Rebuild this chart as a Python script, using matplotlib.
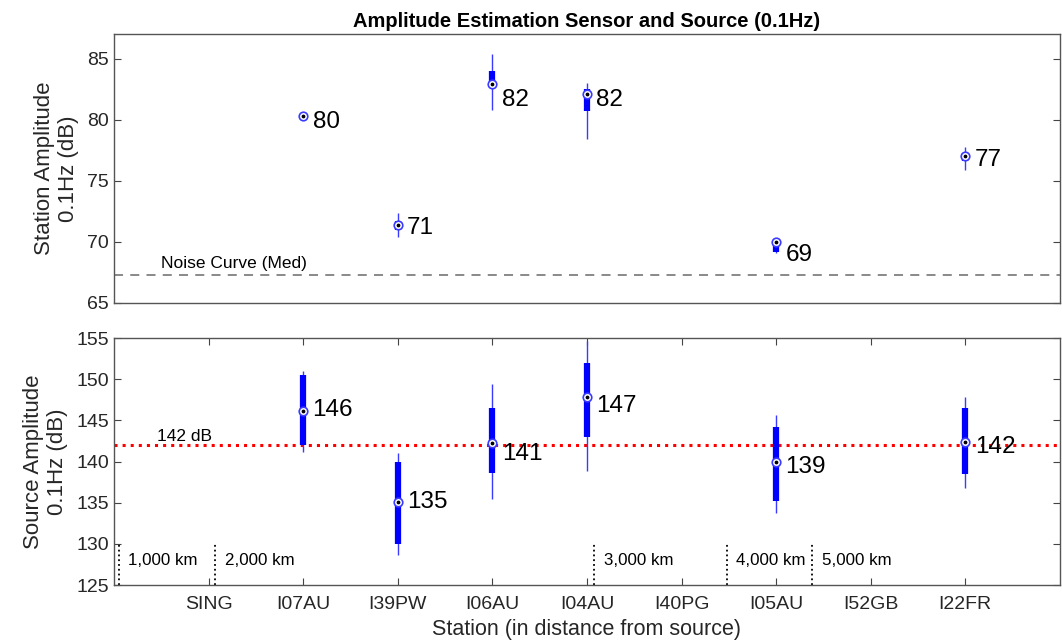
import matplotlib
matplotlib.use("Agg")
import matplotlib.pyplot as plt

plt.rcParams['font.family'] = ['Liberation Sans', 'DejaVu Sans']

stations = ['SING', 'I07AU', 'I39PW', 'I06AU', 'I04AU', 'I40PG', 'I05AU', 'I52GB', 'I22FR']

# station amplitude (top)
st_pos = [2, 3, 4, 5, 7, 9]
st_med = [80.3, 71.4, 82.9, 82.1, 70.0, 77.0]
st_q1 = [80.2, 71.0, 82.9, 80.7, 69.2, 76.6]
st_q3 = [80.4, 71.7, 84.0, 82.5, 70.1, 77.3]
st_lo = [80.2, 70.4, 80.8, 78.4, 69.1, 75.9]
st_hi = [80.4, 72.4, 85.4, 83.0, 70.1, 77.8]
st_mean = [79.8, 71.1, 81.6, 81.6, 68.9, 76.7]
st_lab = ['80', '71', '82', '82', '69', '77']
noise_med = 67.3

# source amplitude (bottom)
src_med = [146.1, 135.1, 142.2, 147.8, 140.0, 142.4]
src_q1 = [142.0, 130.0, 138.6, 143.0, 135.2, 138.5]
src_q3 = [150.5, 140.0, 146.5, 152.0, 144.2, 146.5]
src_lo = [141.2, 128.7, 135.4, 138.8, 133.8, 136.8]
src_hi = [151.0, 141.0, 149.4, 154.6, 145.6, 147.8]
src_mean = [146.2, 135.1, 140.9, 146.8, 139.3, 141.8]
src_lab = ['146', '135', '141', '147', '139', '142']
src_ref = 142

dist_x = [0.05, 1.07, 5.08, 6.48, 7.38]
dist_lab = ['1,000 km', '2,000 km', '3,000 km', '4,000 km', '5,000 km']

fig = plt.figure(figsize=(10.62, 6.43), dpi=100)
ax1 = fig.add_axes([0.1073, 0.5288, 0.8907, 0.4182])
ax2 = fig.add_axes([0.1073, 0.0902, 0.8907, 0.3841])

def compact_box(ax, pos, med, q1, q3, lo, hi, mean, lab):
    ax.vlines(pos, lo, hi, color='#3b3bff', lw=1.0, zorder=2)
    ax.vlines(pos, q1, q3, color='#0000ff', lw=4.5, zorder=3)
    ax.scatter(pos, med, s=38, facecolor='white', edgecolor='#3b3bff', lw=1.2, zorder=4)
    ax.scatter(pos, med, s=3, color='black', zorder=5)
    for x, y, t in zip(pos, mean, lab):
        ax.text(x + 0.1, y, t, fontsize=17.5, va='center', ha='left', zorder=6)

for ax in (ax1, ax2):
    ax.set_xlim(0, 10)
    ax.tick_params(direction='in', which='both', top=True, right=True, labelsize=14,
                   color='#444444', labelcolor='#262626', length=5)
    for s in ax.spines.values():
        s.set_color('#555555')
        s.set_linewidth(1.0)
ax2.tick_params(axis='x', pad=8)

# top panel
compact_box(ax1, st_pos, st_med, st_q1, st_q3, st_lo, st_hi, st_mean, st_lab)
ax1.axhline(noise_med, color='#808080', ls=(0, (5, 4)), lw=1.3)
ax1.text(0.5, noise_med + 0.35, 'Noise Curve (Med)', fontsize=12.5, va='bottom', ha='left')
ax1.set_ylim(65, 87)
ax1.set_yticks([65, 70, 75, 80, 85])
ax1.set_xticks([])
ax1.set_ylabel('Station Amplitude\n0.1Hz (dB)', fontsize=16, color='#262626', labelpad=6)
ax1.set_title('Amplitude Estimation Sensor and Source (0.1Hz)', fontsize=14.5, fontweight='bold', pad=5)

# bottom panel
ax2.axhline(src_ref, color='red', ls=':', lw=2.2, zorder=1)
ax2.text(0.45, src_ref + 0.1, '%d dB' % src_ref, fontsize=12.5, va='bottom', ha='left')
compact_box(ax2, st_pos, src_med, src_q1, src_q3, src_lo, src_hi, src_mean, src_lab)
for x, t in zip(dist_x, dist_lab):
    ax2.vlines(x, 125, 130, color='black', ls=':', lw=1.3)
    ax2.text(x + 0.1, 128, t, fontsize=12.2, va='center', ha='left')
ax2.set_ylim(125, 155)
ax2.set_yticks(range(125, 156, 5))
ax2.set_xticks(range(1, 10))
ax2.set_xticklabels(stations)
ax2.set_ylabel('Source Amplitude\n0.1Hz (dB)', fontsize=16, color='#262626', labelpad=6)
ax2.set_xlabel('Station (in distance from source)', fontsize=15.5, color='#262626', labelpad=4)

fig.savefig('out.png', dpi=100)
